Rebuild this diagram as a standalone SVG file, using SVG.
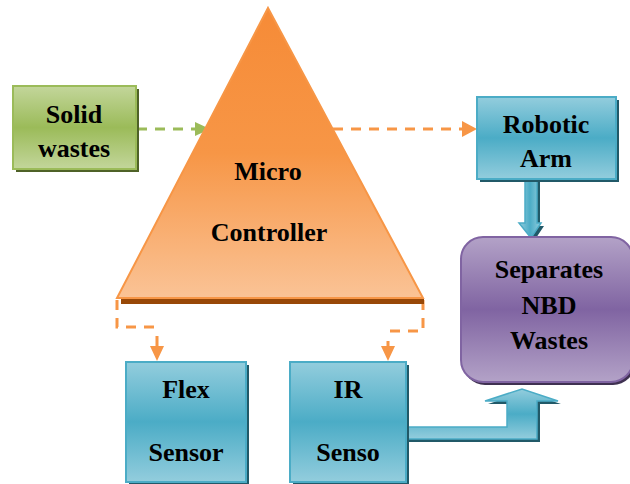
<svg xmlns="http://www.w3.org/2000/svg" width="630" height="484" viewBox="0 0 630 484">
<defs>
<linearGradient id="gBlue" x1="0" y1="0" x2="0" y2="1"><stop offset="0" stop-color="#93cddd"/><stop offset="0.5" stop-color="#4bacc6"/><stop offset="1" stop-color="#93cddd"/></linearGradient>
<linearGradient id="gGreen" x1="0" y1="0" x2="0" y2="1"><stop offset="0" stop-color="#c3d69b"/><stop offset="0.5" stop-color="#9bbb59"/><stop offset="1" stop-color="#c3d69b"/></linearGradient>
<linearGradient id="gPurple" x1="0" y1="0" x2="0" y2="1"><stop offset="0" stop-color="#b3a2c7"/><stop offset="0.5" stop-color="#8064a2"/><stop offset="1" stop-color="#b3a2c7"/></linearGradient>
<linearGradient id="gOrange" x1="0" y1="0" x2="0" y2="1"><stop offset="0" stop-color="#f68b37"/><stop offset="0.5" stop-color="#f79646"/><stop offset="1" stop-color="#fac396"/></linearGradient>
<linearGradient id="gArrowV" x1="0" y1="0" x2="1" y2="0"><stop offset="0" stop-color="#93cddd"/><stop offset="0.5" stop-color="#4bacc6"/><stop offset="1" stop-color="#93cddd"/></linearGradient>
</defs>
<style>
text{font-family:"Liberation Serif","Times New Roman",serif;font-weight:bold;font-size:26px;fill:#000;text-anchor:middle}
.blue{fill:url(#gBlue);stroke:#4bacc6;stroke-width:2}
.bshadow{fill:#215968}
.dash{fill:none;stroke:#f79646;stroke-width:3;stroke-dasharray:10 8}
.gdash{fill:none;stroke:#9bbb59;stroke-width:3;stroke-dasharray:10 8}
.ohead{fill:#f79646}
</style>
<g id="connectors">
<path class="gdash" d="M137,129 H196"/>
<polygon fill="#9bbb59" points="195,122 210,129 195,136"/>
<path class="dash" d="M333,129 H463"/>
<polygon class="ohead" points="462,121 477,129 462,137"/>
<path class="dash" d="M117,300 V327 H157 M157,336 V348"/>
<polygon class="ohead" points="150,346 164,346 157,361"/>
<path class="dash" d="M423,300 V331 H387 M388,341 V348"/>
<polygon class="ohead" points="381,346 395,346 388,361"/>
<polygon class="bshadow" points="528,182 540,182 540,226 544,226 534,241 522,226 528,226"/>
<polygon fill="url(#gArrowV)" stroke="#4bacc6" stroke-width="1.5" points="525,179 537,179 537,223 541,223 531,238 519,223 525,223"/>
<polygon class="bshadow" points="409,430 510,430 510,404 488,404 525,392 561,404 540,404 540,442 409,442"/>
<polygon fill="url(#gBlue)" stroke="#4bacc6" stroke-width="1.5" points="406,427 507,427 507,401 485,401 522,389 558,401 537,401 537,439 406,439"/>
</g>
<g id="micro-controller">
<rect x="121" y="299" width="303" height="5" fill="#984807"/>
<polygon fill="url(#gOrange)" stroke="#f79646" stroke-width="2" points="268,8 423,298 117,298"/>
<text x="268" y="180">Micro</text>
<text x="269" y="241">Controller</text>
</g>
<g id="solid-wastes">
<rect x="16" y="89" width="123" height="83" fill="#4f6228"/>
<rect x="13" y="86" width="123" height="83" fill="url(#gGreen)" stroke="#9bbb59" stroke-width="2"/>
<text x="74" y="123">Solid</text>
<text x="74" y="157">wastes</text>
</g>
<g id="robotic-arm">
<rect class="bshadow" x="480" y="100" width="139" height="82"/>
<rect class="blue" x="477" y="97" width="139" height="82"/>
<text x="546" y="133">Robotic</text>
<text x="546" y="167">Arm</text>
</g>
<g id="separates">
<rect x="463" y="240" width="172" height="145" rx="22" fill="#3f3151"/>
<rect x="461" y="237" width="172" height="145" rx="22" fill="url(#gPurple)" stroke="#8064a2" stroke-width="2"/>
<text x="549" y="278">Separates</text>
<text x="549" y="314">NBD</text>
<text x="549" y="349">Wastes</text>
</g>
<g id="flex-sensor">
<rect class="bshadow" x="129" y="365" width="120" height="120"/>
<rect class="blue" x="126" y="362" width="120" height="120"/>
<text x="186" y="398">Flex</text>
<text x="186" y="461">Sensor</text>
</g>
<g id="ir-sensor">
<rect class="bshadow" x="293" y="365" width="116" height="120"/>
<rect class="blue" x="290" y="362" width="116" height="120"/>
<text x="348" y="398">IR</text>
<text x="348" y="461">Senso</text>
</g>
</svg>
